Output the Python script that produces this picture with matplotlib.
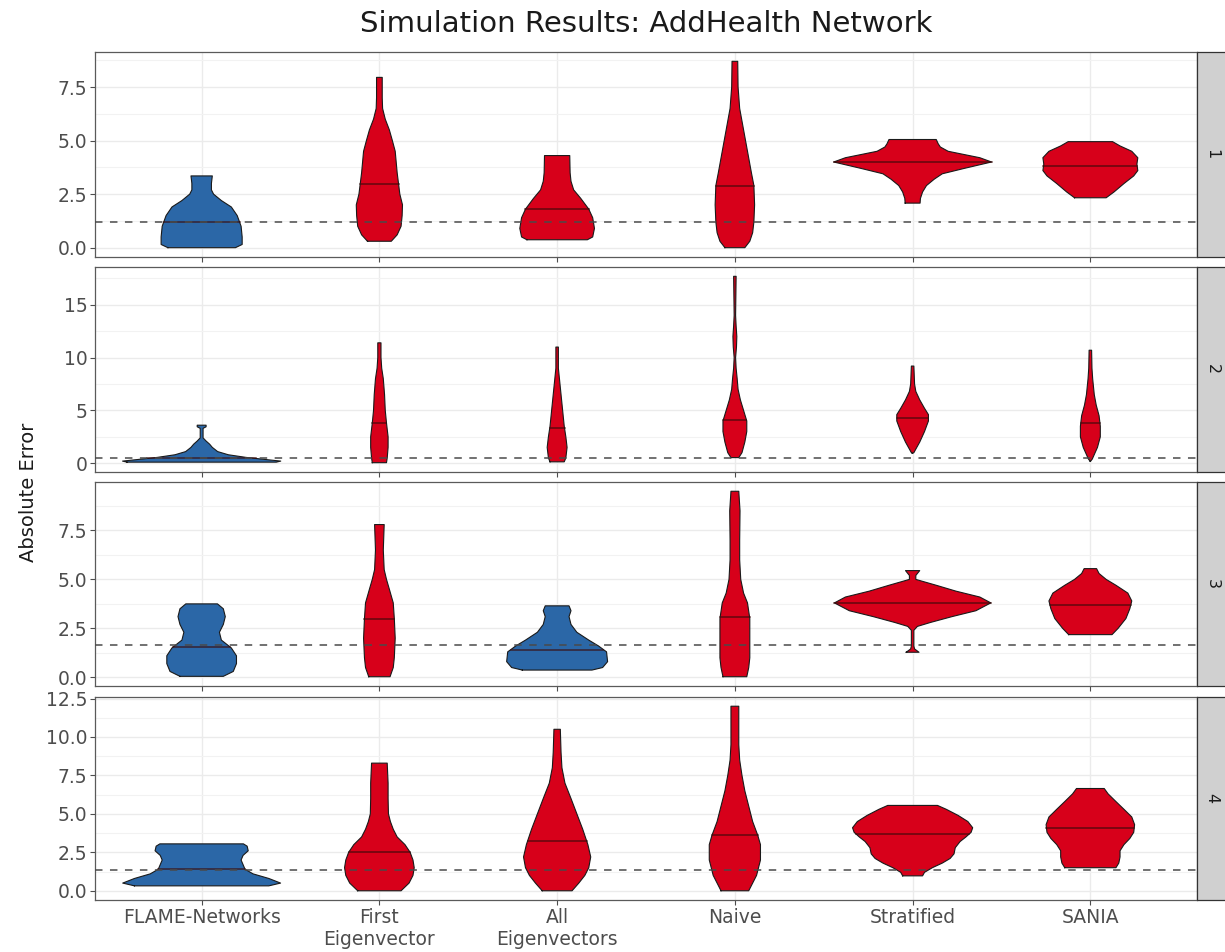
import numpy as np
import matplotlib
matplotlib.use("Agg")
import matplotlib.pyplot as plt
from matplotlib.patches import Rectangle
from matplotlib.ticker import MultipleLocator, FormatStrFormatter

plt.rcParams["font.family"] = ["DejaVu Sans"]

methods = ["FLAME-Networks", "First\nEigenvector", "All\nEigenvectors", "Naive", "Stratified", "SANIA"]
panel_names = ["1", "2", "3", "4"]

# dashed reference line per panel
ref_lines = [1.2, 0.5, 1.65, 1.38]

# medians per panel, one per method
medians = [
    [1.2, 2.95, 1.8, 2.9, 4.0, 3.8],
    [0.45, 3.8, 3.3, 4.1, 4.3, 3.8],
    [1.55, 3.0, 1.42, 3.1, 3.8, 3.7],
    [1.4, 2.5, 3.25, 3.6, 3.7, 4.1],
]

# True -> blue fill, False -> red fill
blue_fill = [
    [True, False, False, False, False, False],
    [True, False, False, False, False, False],
    [True, False, True, False, False, False],
    [True, False, False, False, False, False],
]

# violin outlines: error levels and half-widths (x units)
p1_levels = [
    [0, 0.15, 0.5, 1.0, 1.5, 1.9, 2.2, 2.5, 2.7, 3.0, 3.35],
    [0.3, 0.6, 1.0, 1.5, 2.0, 2.5, 3.5, 4.5, 5.0, 5.5, 6.0, 6.5, 7.0, 7.95],
    [0.37, 0.5, 0.9, 1.4, 1.8, 2.3, 2.7, 3.1, 3.5, 4.3],
    [0, 0.3, 0.7, 1.2, 2.0, 2.9, 3.5, 4.5, 5.5, 6.5, 7.5, 8.7],
    [2.08, 2.3, 2.6, 2.9, 3.2, 3.45, 3.7, 4.0, 4.2, 4.5, 4.7, 4.85, 5.05],
    [2.33, 2.6, 3.0, 3.35, 3.6, 3.9, 4.2, 4.5, 4.75, 4.95],
]
p1_widths = [
    [0.19, 0.228, 0.228, 0.222, 0.2, 0.167, 0.111, 0.067, 0.055, 0.055, 0.06],
    [0.067, 0.1, 0.122, 0.128, 0.13, 0.115, 0.1, 0.089, 0.073, 0.056, 0.033, 0.018, 0.016, 0.016],
    [0.17, 0.2, 0.21, 0.2, 0.178, 0.133, 0.093, 0.078, 0.073, 0.071],
    [0.056, 0.084, 0.1, 0.107, 0.111, 0.107, 0.093, 0.071, 0.049, 0.027, 0.018, 0.016],
    [0.042, 0.044, 0.056, 0.078, 0.122, 0.167, 0.29, 0.444, 0.378, 0.2, 0.156, 0.144, 0.133],
    [0.089, 0.133, 0.19, 0.244, 0.267, 0.262, 0.267, 0.233, 0.167, 0.125],
]

p2_levels = [
    [0.1, 0.2, 0.35, 0.55, 0.8, 1.1, 1.5, 1.8, 2.1, 2.4, 3.3, 3.45, 3.6],
    [0.05, 0.5, 1.5, 2.5, 3.8, 5, 6.5, 8, 9, 10, 11.4],
    [0.13, 0.5, 1.5, 2.5, 3.5, 5, 6.5, 8, 9, 11],
    [0.53, 1, 2, 3, 4, 5, 6, 7, 8, 9, 10, 11, 12, 13, 14, 17.7],
    [0.95, 1.0, 2, 3, 4, 4.6, 5.2, 6, 6.8, 7.5, 9.2],
    [0.2, 0.4, 1.5, 2.5, 3.5, 4.5, 5.5, 6.5, 8, 9, 10.7],
]
p2_widths = [
    [0.42, 0.445, 0.36, 0.25, 0.15, 0.09, 0.06, 0.045, 0.025, 0.008, 0.008, 0.025, 0.025],
    [0.04, 0.044, 0.049, 0.049, 0.04, 0.033, 0.029, 0.022, 0.013, 0.009, 0.009],
    [0.04, 0.049, 0.056, 0.049, 0.04, 0.031, 0.022, 0.013, 0.007, 0.007],
    [0.022, 0.04, 0.056, 0.067, 0.067, 0.049, 0.031, 0.018, 0.013, 0.007, 0.004, 0.009, 0.011, 0.007, 0.004, 0.007],
    [0.002, 0.007, 0.04, 0.067, 0.089, 0.089, 0.067, 0.04, 0.018, 0.011, 0.007],
    [0.002, 0.011, 0.04, 0.056, 0.056, 0.049, 0.033, 0.022, 0.013, 0.009, 0.007],
]

p3_levels = [
    [0.05, 0.3, 0.7, 1.1, 1.5, 1.9, 2.3, 2.7, 3.1, 3.5, 3.75],
    [0.03, 0.5, 1.0, 2.0, 3.0, 3.8, 4.5, 5.0, 5.5, 6.5, 7.8],
    [0.37, 0.5, 0.8, 1.3, 1.6, 1.9, 2.3, 2.7, 3.1, 3.4, 3.65],
    [0.03, 0.5, 1, 2, 3, 3.8, 4.3, 5, 6, 7, 8.5, 9.5],
    [1.28, 1.45, 1.6, 2.4, 2.6, 2.8, 3.1, 3.4, 3.8, 4.1, 4.4, 4.7, 4.9, 5.0, 5.2, 5.45],
    [2.18, 2.5, 3.0, 3.5, 3.9, 4.3, 4.7, 5.0, 5.3, 5.55],
]
p3_widths = [
    [0.122, 0.178, 0.196, 0.196, 0.167, 0.111, 0.1, 0.122, 0.133, 0.122, 0.089],
    [0.06, 0.078, 0.084, 0.089, 0.084, 0.078, 0.056, 0.04, 0.027, 0.022, 0.027],
    [0.196, 0.256, 0.284, 0.278, 0.233, 0.178, 0.111, 0.078, 0.067, 0.078, 0.067],
    [0.067, 0.078, 0.084, 0.084, 0.084, 0.071, 0.049, 0.033, 0.027, 0.027, 0.029, 0.022],
    [0.036, 0.011, 0.007, 0.007, 0.027, 0.1, 0.222, 0.356, 0.44, 0.378, 0.244, 0.133, 0.056, 0.018, 0.018, 0.04],
    [0.122, 0.156, 0.2, 0.222, 0.233, 0.211, 0.144, 0.089, 0.049, 0.035],
]

p4_levels = [
    [0.32, 0.5, 0.8, 1.1, 1.4, 1.7, 2.0, 2.3, 2.6, 2.9, 3.05],
    [0, 0.5, 1, 1.5, 2, 2.5, 3, 3.5, 4, 4.5, 5, 6, 7, 8.3],
    [0, 0.5, 1, 1.5, 2.2, 3, 4, 5, 6, 7, 8, 9, 10.5],
    [0, 0.5, 1, 2, 3, 3.6, 4.5, 5.5, 6.5, 7.5, 8.5, 9.5, 12.0],
    [0.97, 1.2, 1.5, 1.8, 2.1, 2.4, 2.8, 3.2, 3.5, 3.8, 4.1, 4.5, 4.9, 5.3, 5.55],
    [1.5, 1.8, 2.2, 2.6, 3.0, 3.4, 3.8, 4.3, 4.8, 5.3, 5.8, 6.3, 6.65],
]
p4_widths = [
    [0.378, 0.444, 0.378, 0.289, 0.244, 0.233, 0.222, 0.233, 0.262, 0.256, 0.235],
    [0.122, 0.167, 0.189, 0.196, 0.189, 0.173, 0.144, 0.1, 0.078, 0.062, 0.051, 0.049, 0.049, 0.044],
    [0.084, 0.122, 0.156, 0.178, 0.189, 0.173, 0.144, 0.111, 0.078, 0.044, 0.027, 0.022, 0.018],
    [0.078, 0.1, 0.122, 0.144, 0.144, 0.129, 0.1, 0.078, 0.056, 0.04, 0.027, 0.022, 0.022],
    [0.056, 0.067, 0.111, 0.167, 0.211, 0.233, 0.24, 0.267, 0.3, 0.329, 0.338, 0.311, 0.256, 0.189, 0.14],
    [0.144, 0.16, 0.167, 0.167, 0.189, 0.222, 0.244, 0.249, 0.233, 0.189, 0.144, 0.1, 0.078],
]

levels = [p1_levels, p2_levels, p3_levels, p4_levels]
widths = [p1_widths, p2_widths, p3_widths, p4_widths]
tick_steps = [2.5, 5, 2.5, 2.5]
tick_formats = ["%.1f", "%d", "%.1f", "%.1f"]

BLUE = "#2b67a7"
RED = "#d7001a"

W, H = 1225, 952
fig = plt.figure(figsize=(W / 100, H / 100), dpi=100)

left, right = 95, 1197
panel_px = [(52, 257), (267, 472), (482, 686), (697, 900)]
x = np.arange(1, len(methods) + 1)

for p, (top, bottom) in enumerate(panel_px):
    ax = fig.add_axes([left / W, 1 - bottom / H, (right - left) / W, (bottom - top) / H])

    for i in range(len(methods)):
        ys = np.array(levels[p][i])
        hw = np.array(widths[p][i])
        col = BLUE if blue_fill[p][i] else RED
        ax.fill_betweenx(ys, x[i] - hw, x[i] + hw, facecolor=col, edgecolor="none", zorder=3)
        outline_x = np.concatenate([x[i] - hw, (x[i] + hw)[::-1], [x[i] - hw[0]]])
        outline_y = np.concatenate([ys, ys[::-1], [ys[0]]])
        ax.plot(outline_x, outline_y, color="#1a1a1a", lw=0.8, zorder=4)
        m = medians[p][i]
        mw = np.interp(m, ys, hw)
        ax.plot([x[i] - mw, x[i] + mw], [m, m], color="#3a0a0a", lw=1.1, alpha=0.75, zorder=5)

    ax.axhline(ref_lines[p], color="#4a4a4a", lw=1.1, ls=(0, (4.9, 4.9)), zorder=6)

    lo = min(min(l) for l in levels[p])
    hi = max(max(l) for l in levels[p])
    pad = 0.05 * (hi - lo)
    ax.set_ylim(lo - pad, hi + pad)
    ax.set_xlim(0.4, len(methods) + 0.6)

    ax.yaxis.set_major_locator(MultipleLocator(tick_steps[p]))
    ax.yaxis.set_minor_locator(MultipleLocator(tick_steps[p] / 2))
    ax.yaxis.set_major_formatter(FormatStrFormatter(tick_formats[p]))
    ax.set_xticks(x)
    ax.grid(True, which="major", color="#ebebeb", lw=1.0, zorder=0)
    ax.grid(True, which="minor", axis="y", color="#f2f2f2", lw=0.8, zorder=0)
    ax.set_axisbelow(True)
    ax.tick_params(axis="both", which="major", length=3.5, width=0.8, color="#4d4d4d",
                   labelcolor="#4d4d4d", labelsize=13.5, pad=2)
    ax.tick_params(axis="y", which="minor", length=0)
    for s in ax.spines.values():
        s.set_color("#5a5a5a")
        s.set_linewidth(0.9)

    if p == len(panel_px) - 1:
        ax.set_xticklabels(methods, linespacing=1.2)
    else:
        ax.set_xticklabels([])

    # facet strip on the right
    strip = Rectangle((right / W, 1 - bottom / H), 40 / W, (bottom - top) / H,
                      transform=fig.transFigure, facecolor="#d0d0d0",
                      edgecolor="#333333", lw=0.9, clip_on=False)
    fig.patches.append(strip)
    fig.text(1212 / W, 1 - (top + bottom) / 2 / H, panel_names[p], rotation=-90,
             ha="center", va="center", fontsize=11.5, color="#1a1a1a")

fig.text((left + right) / 2 / W, 1 - 24 / H, "Simulation Results: AddHealth Network",
         ha="center", va="center", fontsize=21, color="#1a1a1a")
fig.text(28 / W, 1 - 492 / H, "Absolute Error", rotation=90,
         ha="center", va="center", fontsize=14, color="#1a1a1a")

fig.savefig("out.png", dpi=100)
